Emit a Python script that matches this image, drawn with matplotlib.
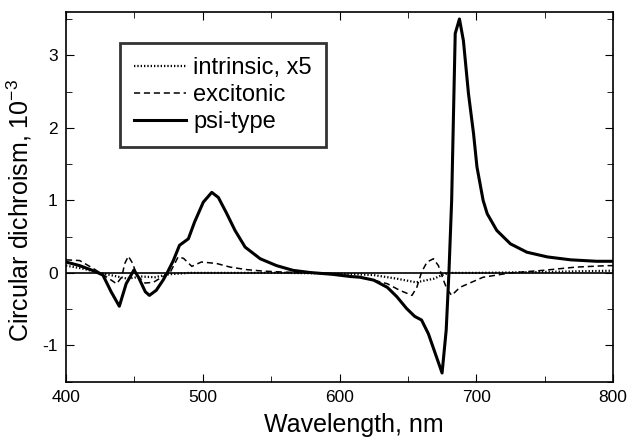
import matplotlib
matplotlib.use("Agg")
import matplotlib.pyplot as plt
from matplotlib.ticker import MultipleLocator

plt.rcParams['font.family'] = ['Liberation Sans', 'DejaVu Sans']
plt.rcParams['axes.unicode_minus'] = False

# psi-type CD (solid)
psi_wl = [400, 410, 420, 427, 433, 439, 444, 449.7, 453, 458, 461, 466, 471, 474,
          478.5, 483, 489.5, 494, 500.4, 506.6, 511.4, 517.5, 523.6, 531, 542, 554,
          566, 578.5, 595, 608, 615, 625, 635, 642, 649, 655, 660, 665, 670, 675,
          678, 680, 682, 684.6, 687.7, 690.6, 694.3, 698, 700.5, 705, 708, 715, 725,
          737, 752, 769, 788, 800]
psi_cd = [0.15, 0.10, 0.03, -0.03, -0.26, -0.46, -0.15, 0.04, -0.06, -0.26, -0.31, -0.24,
          -0.10, 0.0, 0.17, 0.38, 0.47, 0.70, 0.975, 1.11, 1.04, 0.82, 0.585, 0.355, 0.195,
          0.10, 0.035, 0.005, -0.02, -0.05, -0.06, -0.10, -0.20, -0.33, -0.49, -0.60, -0.65,
          -0.84, -1.11, -1.38, -0.79, 0.0, 1.0, 3.3, 3.50, 3.20, 2.47, 1.92, 1.46, 1.0,
          0.815, 0.585, 0.40, 0.285, 0.22, 0.18, 0.16, 0.16]

# excitonic CD (dashed)
exc_wl = [400, 410, 420, 430, 437, 440.7, 443, 445.6, 448.8, 451.7, 457.8, 463.9, 470,
          476, 482, 486, 492, 499, 510, 520, 532, 544, 560, 580, 600, 612, 625, 635, 644,
          653, 656.5, 660, 664, 668.7, 672.3, 676, 678.5, 682, 688, 694, 705, 725, 749,
          773, 796, 800]
exc_cd = [0.18, 0.17, 0.06, -0.06, -0.15, -0.06, 0.13, 0.23, 0.13, -0.03, -0.14, -0.13,
          -0.06, 0.0, 0.22, 0.20, 0.09, 0.15, 0.13, 0.08, 0.045, 0.025, 0.01, 0.0, -0.02,
          -0.05, -0.10, -0.15, -0.24, -0.31, -0.20, 0.01, 0.15, 0.195, 0.10, -0.10, -0.22,
          -0.31, -0.20, -0.15, -0.06, 0.0, 0.035, 0.08, 0.10, 0.10]

# intrinsic CD x5 (dotted)
int_wl = [400, 412, 425, 435, 445, 455, 465, 475, 490, 520, 560, 600, 625, 642, 656,
          669, 675, 680, 700, 740, 770, 800]
int_cd = [0.10, 0.06, 0.0, -0.04, -0.08, -0.05, -0.06, -0.02, 0.0, 0.0, 0.0, -0.01,
          -0.03, -0.08, -0.13, -0.08, -0.03, 0.0, 0.0, 0.01, 0.02, 0.03]

fig = plt.figure(figsize=(6.32, 4.44), dpi=100)
ax = fig.add_axes([0.1044, 0.1403, 0.8656, 0.8333])

ax.axhline(0, color='black', lw=1.2)
ax.plot(int_wl, int_cd, color='black', lw=1.6, ls=(0, (0.6, 0.9)), label='intrinsic, x5')
ax.plot(exc_wl, exc_cd, color='black', lw=1.1, ls=(0, (4, 2.5)), label='excitonic')
ax.plot(psi_wl, psi_cd, color='black', lw=2.2, label='psi-type')

ax.set_xlim(400, 800)
ax.set_ylim(-1.5, 3.6)
ax.xaxis.set_major_locator(MultipleLocator(100))
ax.xaxis.set_minor_locator(MultipleLocator(50))
ax.yaxis.set_major_locator(MultipleLocator(1))
ax.yaxis.set_minor_locator(MultipleLocator(0.5))
ax.tick_params(which='both', direction='in', top=True, right=True, labelsize=12.5)
ax.tick_params(which='major', length=6, pad=6)
ax.tick_params(which='minor', length=4)
for s in ax.spines.values():
    s.set_linewidth(1.2)

ax.set_xlabel('Wavelength, nm', fontsize=18)
ax.set_ylabel('Circular dichroism, 10$^{\\mathregular{-3}}$', fontsize=18)
ax.xaxis.set_label_coords(0.527, -0.085)
ax.yaxis.set_label_coords(-0.058, 0.464)

leg = ax.legend(loc='upper left', bbox_to_anchor=(0.099, 0.915), fontsize=17,
                frameon=True, fancybox=False, handlelength=2.2, handletextpad=0.3,
                labelspacing=0.2, borderpad=0.6, borderaxespad=0)
leg.get_frame().set_edgecolor('black')
leg.get_frame().set_linewidth(2)

fig.savefig('out.png', dpi=100)
